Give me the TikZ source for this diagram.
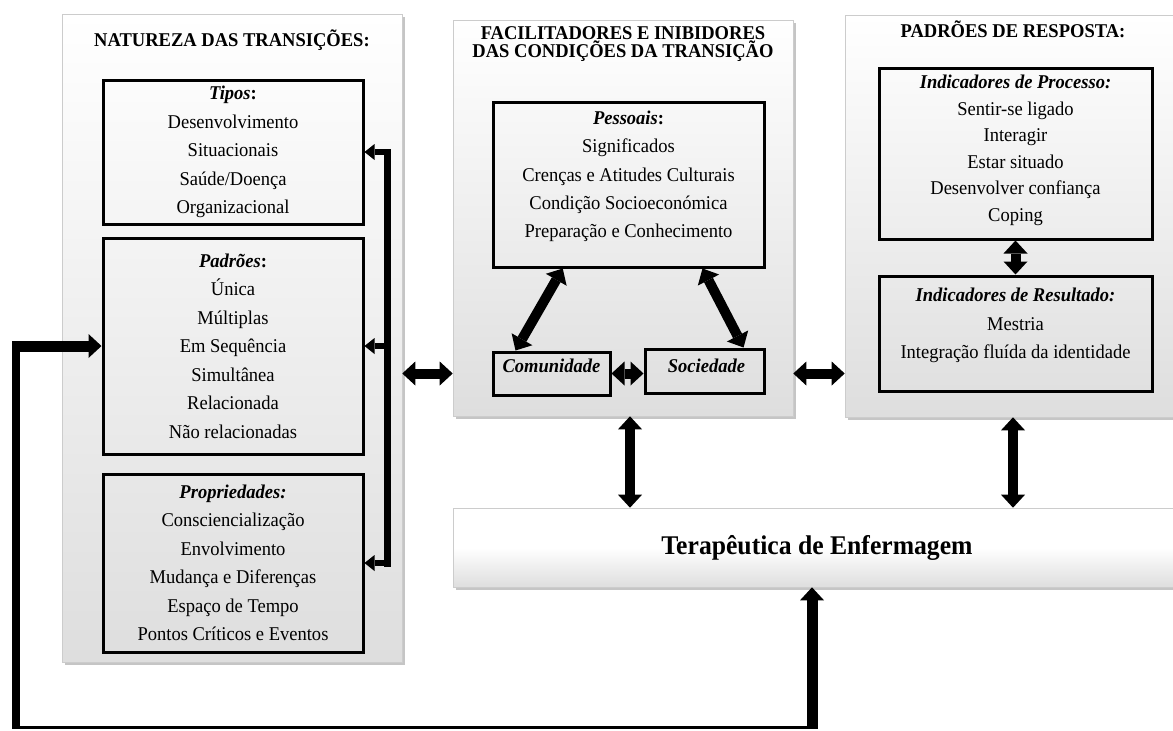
\documentclass[tikz,border=0pt]{standalone}
\usepackage{fontspec}
\setmainfont{Liberation Serif}[FakeStretch=0.95]
\usetikzlibrary{arrows.meta,shadows,calc}

\newcommand{\corpo}{\fontsize{19.5}{28.5}\selectfont}
\newcommand{\cabec}{\bfseries\fontsize{19.5}{18.5}\selectfont}
% folga em baixo para subir o texto
\newcommand{\folga}[1]{\\[#1]\mbox{}}

\tikzset{
  Pta/.tip={Triangle[length=13pt,width=24pt,line width=0pt]},
  Ptb/.tip={Triangle[length=10pt,width=16pt,line width=0pt]},
  painel/.style={draw=black!20, line width=0.6pt, top color=white, bottom color=black!13,
    drop shadow={shadow xshift=2.5pt, shadow yshift=-2.5pt, opacity=0.45}, inner sep=0pt},
  caixa/.style={draw, line width=3pt, align=center, font=\corpo, inner sep=0pt},
  titulo/.style={font=\cabec, align=center},
  seta/.style={line width=10pt, Pta-Pta},
}

\begin{document}
\begin{tikzpicture}[x=1pt, y=-1pt]
  \useasboundingbox (0,0) rectangle (1173,731);
  \fill[white] (0,0) rectangle (1173,731);

  % paineis
  \node[painel, minimum width=340pt, minimum height=648pt] (natureza) at (232,338) {};
  \node[painel, minimum width=340pt, minimum height=396pt] (facilitadores) at (623,218) {};
  \node[painel, minimum width=336pt, minimum height=402pt] (respostas) at (1013,216) {};
  \node[painel, middle color=white, minimum width=728pt, minimum height=79pt,
    font=\bfseries\fontsize{27}{27}\selectfont] (tera) at (817,547.5) {Terapêutica de Enfermagem};

  \node[titulo] (tnatureza) at (232,40) {NATUREZA DAS TRANSIÇÕES:};
  \node[titulo] (tfacil) at (623,44) {FACILITADORES E INIBIDORES\\DAS CONDIÇÕES DA TRANSIÇÃO};
  \node[titulo] (tresp) at (1013,29) {PADRÕES DE RESPOSTA:};

  % natureza das transicoes
  \node[caixa, minimum width=260pt, minimum height=144pt] (tipos) at (233,152)
    {\textbf{\textit{Tipos}:}\\Desenvolvimento\\Situacionais\\Saúde/Doença\\Organizacional};
  \node[caixa, minimum width=260pt, minimum height=216pt] (padroes) at (233,346)
    {\textbf{\textit{Padrões}:}\\Única\\Múltiplas\\Em Sequência\\Simultânea\\Relacionada\\Não relacionadas};
  \node[caixa, minimum width=260pt, minimum height=178pt] (propriedades) at (233,563)
    {\textbf{\textit{Propriedades:}}\\Consciencialização\\Envolvimento\\Mudança e Diferenças\\Espaço de Tempo\\Pontos Críticos e Eventos};

  % facilitadores e inibidores
  \node[caixa, minimum width=271pt, minimum height=165pt, font=\fontsize{19.5}{28.2}\selectfont] (pessoais) at (628.5,184.5)
    {\textbf{\textit{Pessoais}:}\\Significados\\Crenças e Atitudes Culturais\\Condição Socioeconómica\\Preparação e Conhecimento\folga{-8pt}};
  \node[caixa, minimum width=117pt, minimum height=43pt] (comunidade) at (551.5,373.5) {\textbf{\textit{Comunidade}}\folga{-12pt}};
  \node[caixa, minimum width=119pt, minimum height=44pt] (sociedade) at (704.5,371) {\hspace{4pt}\textbf{\textit{Sociedade}}\folga{-18pt}};

  % padroes de resposta
  \node[caixa, minimum width=273pt, minimum height=171pt, font=\fontsize{19.5}{26.6}\selectfont] (processo) at (1015.5,153.5)
    {\textbf{\textit{Indicadores de Processo:}}\\Sentir-se ligado\\Interagir\\Estar situado\\Desenvolver confiança\\Coping\folga{-16pt}};
  \node[caixa, minimum width=273pt, minimum height=115pt] (resultado) at (1015.5,333.5)
    {\textbf{\textit{Indicadores de Resultado:}}\\Mestria\\Integração fluída da identidade\folga{-8pt}};
  %\node[caixa] (outros) at (1015.5,450) {};

  % setas entre paineis
  \draw[seta] (natureza.east |- comunidade) -- (facilitadores.west |- comunidade);
  \draw[seta] (facilitadores.east |- comunidade) -- (respostas.west |- comunidade);
  \draw[seta] ([xshift=7pt]facilitadores.south) -- ([xshift=7pt]facilitadores.south |- tera.north);
  \draw[seta] (respostas.south) -- (respostas.south |- tera.north);

  \draw[seta] (comunidade.east) -- (sociedade.west |- comunidade.east);
  \draw[seta] ($(pessoais.south west)!0.26!(pessoais.south east)$) -- ($(comunidade.north west)!0.2!(comunidade.north east)$);
  \draw[seta] ($(pessoais.south west)!0.77!(pessoais.south east)$) -- ($(sociedade.north west)!0.82!(sociedade.north east)$);
  \draw[seta] (processo.south) -- (resultado.north);

  % chaveta da direita
  \coordinate (barra) at (387,0);
  \draw[line width=7pt, line cap=rect] (barra |- tipos.east) -- (barra |- propriedades.east);
  \foreach \alvo in {tipos,padroes,propriedades}
    \draw[line width=6pt, -Ptb] (barra |- \alvo.east) -- (\alvo.east);

  % retorno da terapeutica
  \coordinate (cantoE) at (16,727);
  \coordinate (cantoD) at (812,727);
  \draw[line width=3pt] (cantoE) -- (cantoD);
  \draw[line width=8pt] ([yshift=-1.5pt]cantoE) -- (cantoE |- padroes.west);
  \draw[line width=11pt, -Pta] ([xshift=-4pt]cantoE |- padroes.west) -- (padroes.west);
  \draw[line width=11pt, -Pta] ([yshift=-1.5pt]cantoD) -- (cantoD |- tera.south);
\end{tikzpicture}
\end{document}
